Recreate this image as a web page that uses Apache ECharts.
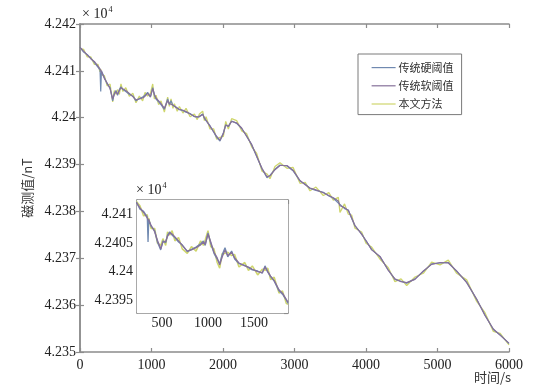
<!DOCTYPE html>
<html>
<head>
<meta charset="utf-8">
<script src="https://cdn.jsdelivr.net/npm/echarts@6/dist/echarts.min.js"></script>
<style>html,body{margin:0;padding:0;background:#fff}#c{width:553px;height:391px}</style>
</head>
<body>
<div id="c"></div>
<script>
// ---- data (values in units of 10^4 nT) ----
const seriesNames = ['传统硬阈值', '传统软阈值', '本文方法'];
const xTicksMain = [0, 1000, 2000, 3000, 4000, 5000, 6000];
const yTicksMain = [4.235, 4.236, 4.237, 4.238, 4.239, 4.24, 4.241, 4.242];
const xTicksInset = [500, 1000, 1500];
const yTicksInset = [4.2395, 4.24, 4.2405, 4.241];

const mainTime = [0,50,100,150,200,250,280,290,300,340,380,420,457,480,503,525,550,573,600,640,690,740,783,830,876,910,946,985,1017,1040,1063,1100,1133,1180,1226,1250,1273,1300,1320,1360,1390,1440,1483,1540,1600,1640,1670,1716,1740,1763,1818,1870,1912,1958,2005,2038,2075,2121,2191,2261,2331,2401,2471,2545,2615,2657,2727,2797,2895,2979,3077,3150,3217,3300,3403,3480,3543,3613,3636,3700,3753,3800,3846,3939,4000,4079,4196,4312,4405,4490,4569,4685,4802,4918,5035,5151,5268,5408,5548,5664,5781,5874,6000];

const hardMain = [4.24150,4.24140,4.24135,4.24127,4.24118,4.24108,4.24102,4.24056,4.24100,4.24086,
4.24072,4.24064,4.24036,4.24052,4.24058,4.24048,4.24060,4.24066,4.24060,4.24056,
4.24050,4.24046,4.24036,4.24041,4.24044,4.24048,4.24054,4.24044,4.24064,4.24048,
4.24040,4.24034,4.24028,4.24018,4.24040,4.24028,4.24036,4.24026,4.24022,4.24021,
4.24017,4.24015,4.24012,4.24009,4.24002,4.24001,4.24003,4.24008,4.23998,4.23995,
4.23983,4.23969,4.23958,4.23950,4.23968,4.23985,4.23981,4.23993,4.23988,4.23977,
4.23961,4.23942,4.23917,4.23891,4.23872,4.23877,4.23890,4.23899,4.23897,4.23887,
4.23865,4.23858,4.23849,4.23845,4.23841,4.23833,4.23828,4.23818,4.23814,4.23806,
4.23803,4.23785,4.23769,4.23752,4.23737,4.23719,4.23703,4.23675,4.23655,4.23651,
4.23647,4.23656,4.23672,4.23688,4.23690,4.23691,4.23672,4.23649,4.23612,4.23579,
4.23548,4.23537,4.23518];

const softMain = [4.24150,4.24142,4.24134,4.24126,4.24120,4.24110,4.24104,4.24102,4.24098,4.24084,
4.24074,4.24062,4.24040,4.24050,4.24056,4.24050,4.24058,4.24064,4.24062,4.24058,
4.24052,4.24045,4.24038,4.24040,4.24042,4.24046,4.24052,4.24045,4.24062,4.24050,
4.24042,4.24036,4.24030,4.24020,4.24036,4.24030,4.24034,4.24027,4.24024,4.24020,
4.24018,4.24016,4.24013,4.24008,4.24003,4.24002,4.24002,4.24007,4.24000,4.23996,
4.23982,4.23970,4.23960,4.23952,4.23966,4.23984,4.23982,4.23992,4.23989,4.23978,
4.23960,4.23943,4.23918,4.23892,4.23874,4.23876,4.23889,4.23898,4.23898,4.23888,
4.23866,4.23857,4.23850,4.23846,4.23840,4.23834,4.23829,4.23822,4.23812,4.23808,
4.23802,4.23786,4.23770,4.23751,4.23738,4.23718,4.23704,4.23674,4.23656,4.23650,
4.23648,4.23655,4.23673,4.23687,4.23691,4.23690,4.23673,4.23648,4.23613,4.23578,
4.23549,4.23536,4.23519];

const oursMain = [4.24148,4.24146,4.24130,4.24130,4.24114,4.24114,4.24098,4.24104,4.24092,4.24090,
4.24068,4.24072,4.24034,4.24058,4.24050,4.24060,4.24050,4.24072,4.24056,4.24064,
4.24046,4.24052,4.24032,4.24046,4.24036,4.24054,4.24046,4.24052,4.24072,4.24040,
4.24048,4.24028,4.24036,4.24012,4.24044,4.24024,4.24040,4.24020,4.24030,4.24014,
4.24024,4.24010,4.24020,4.24002,4.24008,4.23996,4.24008,4.24014,4.23994,4.24002,
4.23976,4.23976,4.23954,4.23958,4.23960,4.23992,4.23976,4.23998,4.23994,4.23972,
4.23966,4.23938,4.23924,4.23886,4.23880,4.23870,4.23896,4.23904,4.23892,4.23894,
4.23860,4.23862,4.23844,4.23852,4.23834,4.23840,4.23824,4.23830,4.23798,4.23816,
4.23794,4.23792,4.23764,4.23756,4.23732,4.23724,4.23698,4.23680,4.23650,4.23656,
4.23642,4.23660,4.23668,4.23692,4.23686,4.23696,4.23668,4.23654,4.23608,4.23584,
4.23544,4.23540,4.23515];

const insetTime = [220,260,300,340,348,356,380,420,450,486,510,540,560,584,610,640,680,720,775,820,870,920,950,970,1000,1030,1065,1100,1127,1155,1185,1215,1257,1290,1337,1400,1440,1482,1540,1590,1620,1650,1681,1720,1772,1810,1851,1870];

const hardInset = [4.24123,4.24110,4.24106,4.24096,4.24052,4.24092,4.24080,4.24072,4.24052,4.24038,
4.24054,4.24051,4.24064,4.24070,4.24064,4.24060,4.24052,4.24047,4.24035,4.24039,
4.24043,4.24049,4.24054,4.24046,4.24068,4.24050,4.24032,4.24022,4.24014,4.24030,
4.24042,4.24026,4.24036,4.24022,4.24014,4.24011,4.24007,4.24003,4.24001,4.23997,
4.24010,4.23999,4.23991,4.23983,4.23966,4.23960,4.23950,4.23944];

const softInset = [4.24122,4.24112,4.24104,4.24094,4.24092,4.24090,4.24082,4.24070,4.24055,4.24040,
4.24052,4.24053,4.24062,4.24068,4.24066,4.24061,4.24054,4.24046,4.24036,4.24038,
4.24042,4.24047,4.24052,4.24048,4.24066,4.24052,4.24034,4.24024,4.24012,4.24026,
4.24038,4.24028,4.24034,4.24024,4.24015,4.24010,4.24008,4.24004,4.24000,4.23998,
4.24008,4.24000,4.23992,4.23984,4.23968,4.23962,4.23951,4.23946];

const oursInset = [4.24124,4.24116,4.24098,4.24100,4.24090,4.24094,4.24076,4.24076,4.24050,4.24046,
4.24058,4.24046,4.24070,4.24064,4.24072,4.24054,4.24060,4.24040,4.24032,4.24044,
4.24036,4.24054,4.24046,4.24056,4.24072,4.24044,4.24040,4.24016,4.24006,4.24032,
4.24032,4.24034,4.24028,4.24030,4.24008,4.24016,4.24002,4.24010,4.23994,4.24004,
4.24002,4.24006,4.23986,4.23990,4.23962,4.23966,4.23944,4.23942];

// ---- chart ----
const zip = (t, v) => t.map((x, i) => [x, v[i]]);
const colors = ['#7089b0', '#86709a', '#cfd66c'];
const serif = '"Times New Roman", "Liberation Serif", serif';
const cjk = '"Noto Sans CJK SC", sans-serif';
const axisGray = '#8c8c8c';
const fmt = v => String(+(+v).toFixed(5));
const fmtInt = v => String(Math.round(v));

function axisCommon(extra) {
  return Object.assign({
    type: 'value',
    axisLine: { show: true, lineStyle: { color: axisGray, width: 1.5 } },
    axisTick: { show: true, inside: true, length: 4, lineStyle: { color: axisGray, width: 1.2 } },
    splitLine: { show: false },
    axisLabel: { show: false }
  }, extra);
}
function lab(extra) {
  return Object.assign({ show: true, color: '#222', fontFamily: serif, fontSize: 14 }, extra);
}

const chart = echarts.init(document.getElementById('c'), null, { renderer: 'canvas' });
const option = {
  animation: false,
  backgroundColor: '#fff',
  color: colors,
  grid: [
    { left: 80, top: 24, width: 429, height: 328, show: false },
    { left: 137, top: 200, width: 151, height: 113, show: true, backgroundColor: '#fff', borderWidth: 0, z: 5 }
  ],
  legend: {
    data: seriesNames,
    orient: 'vertical',
    left: 358, top: 54,
    padding: [8, 8, 5, 13],
    itemWidth: 24, itemHeight: 14, itemGap: 7,
    itemStyle: { opacity: 0 },
    lineStyle: { width: 1.2 },
    borderColor: '#7a7a7a', borderWidth: 1, backgroundColor: '#fff',
    textStyle: { fontFamily: cjk, fontSize: 11, color: '#333', padding: [0, 0, 0, -2] }
  },
  xAxis: [
    axisCommon({ gridIndex: 0, position: 'bottom', min: 0, max: 6000, interval: 1000,
      axisLabel: lab({ margin: 6, formatter: fmtInt }) }),
    axisCommon({ gridIndex: 0, position: 'top', min: 0, max: 6000, interval: 1000 }),
    axisCommon({ gridIndex: 1, position: 'bottom', min: 228, max: 1870, splitNumber: 3,
      axisLabel: lab({ margin: 3, showMinLabel: false, showMaxLabel: false, formatter: fmtInt }) }),
    axisCommon({ gridIndex: 1, position: 'top', min: 228, max: 1870, splitNumber: 3 })
  ],
  yAxis: [
    axisCommon({ gridIndex: 0, position: 'left', min: 4.235, max: 4.242, interval: 0.001,
      name: '磁测值/nT', nameLocation: 'middle', nameGap: 34, nameRotate: 90,
      nameTextStyle: { fontFamily: cjk, fontSize: 13, color: '#333' },
      axisLabel: lab({ margin: 4, formatter: fmt }) }),
    axisCommon({ gridIndex: 0, position: 'right', min: 4.235, max: 4.242, interval: 0.001 }),
    axisCommon({ gridIndex: 1, position: 'left', min: 4.23927, max: 4.24126, splitNumber: 4,
      axisLabel: lab({ margin: 4, showMinLabel: false, showMaxLabel: false, formatter: fmt }) }),
    axisCommon({ gridIndex: 1, position: 'right', min: 4.23927, max: 4.24126, splitNumber: 4 })
  ],
  series: [
    { name: seriesNames[2], type: 'line', xAxisIndex: 0, yAxisIndex: 0, data: zip(mainTime, oursMain), symbol: 'none', lineStyle: { width: 1.3, color: colors[2] }, itemStyle: { color: colors[2] }, z: 2 },
    { name: seriesNames[0], type: 'line', xAxisIndex: 0, yAxisIndex: 0, data: zip(mainTime, hardMain), symbol: 'none', lineStyle: { width: 1.2, color: colors[0] }, itemStyle: { color: colors[0] }, z: 3 },
    { name: seriesNames[1], type: 'line', xAxisIndex: 0, yAxisIndex: 0, data: zip(mainTime, softMain), symbol: 'none', lineStyle: { width: 1.2, color: colors[1] }, itemStyle: { color: colors[1] }, z: 4 },
    { name: seriesNames[2], type: 'line', xAxisIndex: 2, yAxisIndex: 2, data: zip(insetTime, oursInset), symbol: 'none', clip: true, lineStyle: { width: 1.5, color: colors[2] }, itemStyle: { color: colors[2] }, z: 6 },
    { name: seriesNames[0], type: 'line', xAxisIndex: 2, yAxisIndex: 2, data: zip(insetTime, hardInset), symbol: 'none', clip: true, lineStyle: { width: 1.3, color: colors[0] }, itemStyle: { color: colors[0] }, z: 7 },
    { name: seriesNames[1], type: 'line', xAxisIndex: 2, yAxisIndex: 2, data: zip(insetTime, softInset), symbol: 'none', clip: true, lineStyle: { width: 1.3, color: colors[1] }, itemStyle: { color: colors[1] }, z: 8 }
  ],
  graphic: [
    { type: 'text', left: 82, top: 6, z: 10,
      style: { text: '{a|× 10}{b|4}', rich: { a: { fontFamily: serif, fontSize: 14, fill: '#222' }, b: { fontFamily: serif, fontSize: 8, fill: '#222', verticalAlign: 'top', padding: [0, 0, 8, 1] } } } },
    { type: 'text', left: 136, top: 182, z: 10,
      style: { text: '{a|× 10}{b|4}', rich: { a: { fontFamily: serif, fontSize: 14, fill: '#222' }, b: { fontFamily: serif, fontSize: 8, fill: '#222', verticalAlign: 'top', padding: [0, 0, 8, 1] } } } },
    { type: 'text', left: 474, top: 371, z: 10,
      style: { text: '时间/s', fontFamily: cjk, fontSize: 13, fill: '#333' } }
  ]
};
chart.setOption(option);
</script>
</body>
</html>
